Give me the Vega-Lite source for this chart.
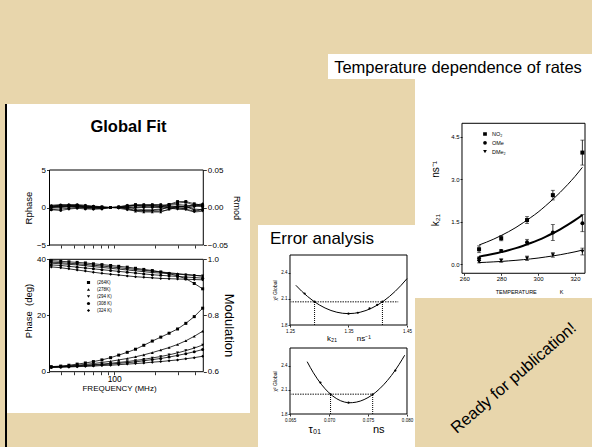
{
"$schema": "https://vega.github.io/schema/vega-lite/v6.json",
"background": "#e8d6ac",
"padding": {"left": 5, "top": 54, "right": 0, "bottom": 0},
"config": {
  "font": "Liberation Sans",
  "view": {"stroke": null},
  "axis": {"grid": false, "domain": false, "labelColor": "black", "titleColor": "black", "tickColor": "black", "titleFontWeight": "normal", "tickWidth": 0.8, "labelFont": "Liberation Sans", "titleFont": "Liberation Sans"},
  "legend": {"labelFont": "Liberation Sans", "labelColor": "black"},
  "title": {"color": "black", "font": "Liberation Sans"}
},
"datasets": {
  "gf": [
    {"T":"(264K)","f":34,"ph":1.8,"m":0.995,"rp":0.2,"rm":0.001},
    {"T":"(264K)","f":40,"ph":2.0,"m":0.993,"rp":0.3,"rm":0.002},
    {"T":"(264K)","f":46,"ph":2.3,"m":0.991,"rp":0.3,"rm":0.002},
    {"T":"(264K)","f":53,"ph":2.7,"m":0.989,"rp":0.3,"rm":0.003},
    {"T":"(264K)","f":61,"ph":3.1,"m":0.987,"rp":0.2,"rm":0.002},
    {"T":"(264K)","f":70,"ph":3.6,"m":0.984,"rp":0.1,"rm":0.001},
    {"T":"(264K)","f":81,"ph":4.2,"m":0.981,"rp":0.1,"rm":0},
    {"T":"(264K)","f":94,"ph":5.0,"m":0.978,"rp":0,"rm":0},
    {"T":"(264K)","f":108,"ph":5.9,"m":0.975,"rp":0,"rm":0.001},
    {"T":"(264K)","f":125,"ph":6.9,"m":0.972,"rp":0.2,"rm":0.002},
    {"T":"(264K)","f":144,"ph":8.0,"m":0.968,"rp":0.4,"rm":0.003},
    {"T":"(264K)","f":166,"ph":9.4,"m":0.964,"rp":0.3,"rm":0.002},
    {"T":"(264K)","f":192,"ph":10.9,"m":0.96,"rp":0.3,"rm":0.003},
    {"T":"(264K)","f":222,"ph":12.3,"m":0.955,"rp":0.1,"rm":0.003},
    {"T":"(264K)","f":256,"ph":13.7,"m":0.949,"rp":0.4,"rm":0.004},
    {"T":"(264K)","f":296,"ph":15.2,"m":0.941,"rp":0.6,"rm":0.008},
    {"T":"(264K)","f":341,"ph":17.2,"m":0.931,"rp":0.7,"rm":0.008},
    {"T":"(264K)","f":394,"ph":19.6,"m":0.914,"rp":0.3,"rm":0.005},
    {"T":"(264K)","f":455,"ph":22.6,"m":0.895,"rp":0.2,"rm":0.003},
    {"T":"(278K)","f":34,"ph":1.7,"m":0.99,"rp":0.1,"rm":0.003},
    {"T":"(278K)","f":40,"ph":1.9,"m":0.988,"rp":0.1,"rm":0.004},
    {"T":"(278K)","f":46,"ph":2.1,"m":0.986,"rp":0.2,"rm":0.003},
    {"T":"(278K)","f":53,"ph":2.3,"m":0.984,"rp":0.2,"rm":0.002},
    {"T":"(278K)","f":61,"ph":2.6,"m":0.982,"rp":0.1,"rm":0.001},
    {"T":"(278K)","f":70,"ph":2.9,"m":0.979,"rp":0.1,"rm":0.001},
    {"T":"(278K)","f":81,"ph":3.3,"m":0.976,"rp":0,"rm":0},
    {"T":"(278K)","f":94,"ph":3.7,"m":0.973,"rp":0,"rm":0},
    {"T":"(278K)","f":108,"ph":4.2,"m":0.97,"rp":0,"rm":0},
    {"T":"(278K)","f":125,"ph":4.7,"m":0.967,"rp":0.1,"rm":-0.002},
    {"T":"(278K)","f":144,"ph":5.3,"m":0.964,"rp":-0.2,"rm":-0.005},
    {"T":"(278K)","f":166,"ph":6.0,"m":0.961,"rp":-0.3,"rm":-0.006},
    {"T":"(278K)","f":192,"ph":6.8,"m":0.958,"rp":-0.3,"rm":-0.006},
    {"T":"(278K)","f":222,"ph":7.7,"m":0.955,"rp":-0.2,"rm":-0.006},
    {"T":"(278K)","f":256,"ph":8.6,"m":0.952,"rp":0,"rm":-0.002},
    {"T":"(278K)","f":296,"ph":9.7,"m":0.949,"rp":0.2,"rm":0.002},
    {"T":"(278K)","f":341,"ph":11.0,"m":0.946,"rp":0.1,"rm":0.001},
    {"T":"(278K)","f":394,"ph":12.6,"m":0.943,"rp":0.4,"rm":-0.002},
    {"T":"(278K)","f":455,"ph":14.4,"m":0.94,"rp":0.3,"rm":-0.003},
    {"T":"(294 K)","f":34,"ph":1.6,"m":0.986,"rp":-0.1,"rm":0},
    {"T":"(294 K)","f":40,"ph":1.8,"m":0.984,"rp":0,"rm":0.001},
    {"T":"(294 K)","f":46,"ph":1.9,"m":0.982,"rp":0.1,"rm":0.001},
    {"T":"(294 K)","f":53,"ph":2.1,"m":0.98,"rp":0.1,"rm":0.001},
    {"T":"(294 K)","f":61,"ph":2.3,"m":0.977,"rp":0,"rm":0},
    {"T":"(294 K)","f":70,"ph":2.5,"m":0.974,"rp":-0.1,"rm":0},
    {"T":"(294 K)","f":81,"ph":2.7,"m":0.971,"rp":-0.1,"rm":0},
    {"T":"(294 K)","f":94,"ph":3.0,"m":0.968,"rp":0,"rm":0},
    {"T":"(294 K)","f":108,"ph":3.3,"m":0.965,"rp":0,"rm":0},
    {"T":"(294 K)","f":125,"ph":3.6,"m":0.962,"rp":-0.1,"rm":0.001},
    {"T":"(294 K)","f":144,"ph":4.0,"m":0.959,"rp":-0.4,"rm":0.003},
    {"T":"(294 K)","f":166,"ph":4.4,"m":0.956,"rp":-0.5,"rm":0.004},
    {"T":"(294 K)","f":192,"ph":4.9,"m":0.953,"rp":-0.5,"rm":0.004},
    {"T":"(294 K)","f":222,"ph":5.4,"m":0.951,"rp":-0.5,"rm":0.004},
    {"T":"(294 K)","f":256,"ph":6.0,"m":0.949,"rp":-0.3,"rm":0},
    {"T":"(294 K)","f":296,"ph":6.7,"m":0.947,"rp":0.1,"rm":-0.002},
    {"T":"(294 K)","f":341,"ph":7.5,"m":0.945,"rp":0.2,"rm":-0.003},
    {"T":"(294 K)","f":394,"ph":8.4,"m":0.943,"rp":-0.4,"rm":-0.006},
    {"T":"(294 K)","f":455,"ph":9.5,"m":0.941,"rp":-0.2,"rm":-0.005},
    {"T":"(308 K)","f":34,"ph":1.6,"m":0.98,"rp":-0.3,"rm":-0.003},
    {"T":"(308 K)","f":40,"ph":1.7,"m":0.978,"rp":-0.2,"rm":-0.004},
    {"T":"(308 K)","f":46,"ph":1.8,"m":0.975,"rp":-0.1,"rm":-0.002},
    {"T":"(308 K)","f":53,"ph":2.0,"m":0.972,"rp":0,"rm":-0.001},
    {"T":"(308 K)","f":61,"ph":2.1,"m":0.969,"rp":-0.1,"rm":-0.002},
    {"T":"(308 K)","f":70,"ph":2.3,"m":0.966,"rp":-0.2,"rm":-0.002},
    {"T":"(308 K)","f":81,"ph":2.5,"m":0.963,"rp":-0.2,"rm":-0.001},
    {"T":"(308 K)","f":94,"ph":2.7,"m":0.96,"rp":0,"rm":0},
    {"T":"(308 K)","f":108,"ph":3.0,"m":0.957,"rp":0,"rm":0},
    {"T":"(308 K)","f":125,"ph":3.2,"m":0.954,"rp":0,"rm":-0.001},
    {"T":"(308 K)","f":144,"ph":3.5,"m":0.951,"rp":0.1,"rm":0},
    {"T":"(308 K)","f":166,"ph":3.9,"m":0.948,"rp":0.1,"rm":0},
    {"T":"(308 K)","f":192,"ph":4.3,"m":0.945,"rp":0,"rm":0.001},
    {"T":"(308 K)","f":222,"ph":4.7,"m":0.943,"rp":0,"rm":0.001},
    {"T":"(308 K)","f":256,"ph":5.2,"m":0.941,"rp":0.1,"rm":0.003},
    {"T":"(308 K)","f":296,"ph":5.8,"m":0.939,"rp":0,"rm":0.004},
    {"T":"(308 K)","f":341,"ph":6.4,"m":0.937,"rp":-0.2,"rm":0.003},
    {"T":"(308 K)","f":394,"ph":7.1,"m":0.935,"rp":-0.5,"rm":0.002},
    {"T":"(308 K)","f":455,"ph":7.9,"m":0.933,"rp":-0.3,"rm":0.001},
    {"T":"(324 K)","f":34,"ph":1.5,"m":0.973,"rp":0,"rm":0.002},
    {"T":"(324 K)","f":40,"ph":1.6,"m":0.97,"rp":0.2,"rm":0.003},
    {"T":"(324 K)","f":46,"ph":1.7,"m":0.966,"rp":0.2,"rm":0.004},
    {"T":"(324 K)","f":53,"ph":1.8,"m":0.962,"rp":0.1,"rm":0.004},
    {"T":"(324 K)","f":61,"ph":1.9,"m":0.958,"rp":0,"rm":0.003},
    {"T":"(324 K)","f":70,"ph":2.0,"m":0.954,"rp":0,"rm":0.002},
    {"T":"(324 K)","f":81,"ph":2.2,"m":0.95,"rp":-0.1,"rm":0.001},
    {"T":"(324 K)","f":94,"ph":2.3,"m":0.947,"rp":0,"rm":0},
    {"T":"(324 K)","f":108,"ph":2.5,"m":0.944,"rp":0.1,"rm":-0.001},
    {"T":"(324 K)","f":125,"ph":2.7,"m":0.941,"rp":0.3,"rm":-0.003},
    {"T":"(324 K)","f":144,"ph":2.9,"m":0.938,"rp":0.3,"rm":-0.004},
    {"T":"(324 K)","f":166,"ph":3.1,"m":0.936,"rp":0.2,"rm":-0.004},
    {"T":"(324 K)","f":192,"ph":3.4,"m":0.934,"rp":0.2,"rm":-0.004},
    {"T":"(324 K)","f":222,"ph":3.6,"m":0.932,"rp":0.2,"rm":-0.003},
    {"T":"(324 K)","f":256,"ph":3.9,"m":0.931,"rp":-0.1,"rm":0.001},
    {"T":"(324 K)","f":296,"ph":4.2,"m":0.93,"rp":-0.2,"rm":0.001},
    {"T":"(324 K)","f":341,"ph":4.6,"m":0.929,"rp":-0.1,"rm":0},
    {"T":"(324 K)","f":394,"ph":5.0,"m":0.928,"rp":0.1,"rm":0.003},
    {"T":"(324 K)","f":455,"ph":5.5,"m":0.927,"rp":0.4,"rm":0.005}
  ],
  "c1": [{"x":1.26,"c":2.254},{"x":1.27,"c":2.186},{"x":1.28,"c":2.126},{"x":1.29,"c":2.074},{"x":1.3,"c":2.03},{"x":1.31,"c":1.994},{"x":1.32,"c":1.966},{"x":1.33,"c":1.946},{"x":1.34,"c":1.934},{"x":1.35,"c":1.93},{"x":1.36,"c":1.934},{"x":1.37,"c":1.946},{"x":1.38,"c":1.966},{"x":1.39,"c":1.994},{"x":1.4,"c":2.03},{"x":1.41,"c":2.074},{"x":1.42,"c":2.126},{"x":1.43,"c":2.186},{"x":1.44,"c":2.254},{"x":1.45,"c":2.33}],
  "p1": [{"x":1.275,"c":2.16},{"x":1.292,"c":2.066},{"x":1.35,"c":1.93},{"x":1.366,"c":1.94},{"x":1.386,"c":1.99},{"x":1.399,"c":2.03},{"x":1.408,"c":2.066}],
  "h1": [{"x":1.25,"x2":1.435,"y":2.066}],
  "v1": [{"x":1.292,"y":1.8,"y2":2.066},{"x":1.408,"y":1.8,"y2":2.066}],
  "c2": [{"x":0.0672,"c":2.45},{"x":0.068,"c":2.312},{"x":0.069,"c":2.171},{"x":0.07,"c":2.063},{"x":0.071,"c":1.989},{"x":0.072,"c":1.948},{"x":0.0727,"c":1.94},{"x":0.073,"c":1.941},{"x":0.074,"c":1.96},{"x":0.075,"c":2.004},{"x":0.076,"c":2.071},{"x":0.077,"c":2.163},{"x":0.078,"c":2.278},{"x":0.079,"c":2.418},{"x":0.0797,"c":2.53}],
  "p2": [{"x":0.0689,"c":2.19},{"x":0.0702,"c":2.044},{"x":0.0725,"c":1.94},{"x":0.0756,"c":2.044},{"x":0.0785,"c":2.34}],
  "h2": [{"x":0.065,"x2":0.0756,"y":2.044}],
  "v2": [{"x":0.0702,"y":1.8,"y2":2.044},{"x":0.0756,"y":1.8,"y2":2.044}],
  "kp": [
    {"s":"NO₂","T":268,"k":0.53,"lo":0.41,"hi":0.65},
    {"s":"NO₂","T":280,"k":0.92,"lo":0.83,"hi":1.01},
    {"s":"NO₂","T":294,"k":1.56,"lo":1.44,"hi":1.68},
    {"s":"NO₂","T":308,"k":2.44,"lo":2.27,"hi":2.61},
    {"s":"NO₂","T":324,"k":3.94,"lo":3.5,"hi":4.38},
    {"s":"OMe","T":268,"k":0.2,"lo":0.14,"hi":0.26},
    {"s":"OMe","T":280,"k":0.47,"lo":0.42,"hi":0.52},
    {"s":"OMe","T":294,"k":0.78,"lo":0.68,"hi":0.88},
    {"s":"OMe","T":308,"k":1.12,"lo":0.84,"hi":1.4},
    {"s":"OMe","T":324,"k":1.45,"lo":1.15,"hi":1.75},
    {"s":"DMe₂","T":268,"k":0.09,"lo":0.05,"hi":0.13},
    {"s":"DMe₂","T":280,"k":0.13,"lo":0.07,"hi":0.19},
    {"s":"DMe₂","T":294,"k":0.21,"lo":0.13,"hi":0.29},
    {"s":"DMe₂","T":308,"k":0.33,"lo":0.25,"hi":0.41},
    {"s":"DMe₂","T":324,"k":0.45,"lo":0.33,"hi":0.57}
  ],
  "kf": [
    {"series":"NO₂","T":268,"fit":0.68},{"series":"NO₂","T":272,"fit":0.78},{"series":"NO₂","T":276,"fit":0.89},{"series":"NO₂","T":280,"fit":1.015},{"series":"NO₂","T":284,"fit":1.15},{"series":"NO₂","T":288,"fit":1.3},{"series":"NO₂","T":292,"fit":1.47},{"series":"NO₂","T":296,"fit":1.65},{"series":"NO₂","T":300,"fit":1.84},{"series":"NO₂","T":304,"fit":2.06},{"series":"NO₂","T":308,"fit":2.29},{"series":"NO₂","T":312,"fit":2.54},{"series":"NO₂","T":316,"fit":2.81},{"series":"NO₂","T":320,"fit":3.1},{"series":"NO₂","T":324,"fit":3.42},
    {"series":"OMe","T":268,"fit":0.27},{"series":"OMe","T":272,"fit":0.316},{"series":"OMe","T":276,"fit":0.369},{"series":"OMe","T":280,"fit":0.429},{"series":"OMe","T":284,"fit":0.496},{"series":"OMe","T":288,"fit":0.571},{"series":"OMe","T":292,"fit":0.655},{"series":"OMe","T":296,"fit":0.749},{"series":"OMe","T":300,"fit":0.853},{"series":"OMe","T":304,"fit":0.968},{"series":"OMe","T":308,"fit":1.095},{"series":"OMe","T":312,"fit":1.235},{"series":"OMe","T":316,"fit":1.388},{"series":"OMe","T":320,"fit":1.556},{"series":"OMe","T":324,"fit":1.74},
    {"series":"DMe₂","T":268,"fit":0.06},{"series":"DMe₂","T":272,"fit":0.072},{"series":"DMe₂","T":276,"fit":0.086},{"series":"DMe₂","T":280,"fit":0.1},{"series":"DMe₂","T":284,"fit":0.12},{"series":"DMe₂","T":288,"fit":0.14},{"series":"DMe₂","T":292,"fit":0.164},{"series":"DMe₂","T":296,"fit":0.19},{"series":"DMe₂","T":300,"fit":0.22},{"series":"DMe₂","T":304,"fit":0.257},{"series":"DMe₂","T":308,"fit":0.295},{"series":"DMe₂","T":312,"fit":0.338},{"series":"DMe₂","T":316,"fit":0.387},{"series":"DMe₂","T":320,"fit":0.44},{"series":"DMe₂","T":324,"fit":0.5}
  ]
},
"spacing": 0,
"resolve": {"scale": {"shape": "independent"}, "legend": {"shape": "independent"}},
"hconcat": [
  {"spacing": 0, "vconcat": [
    {"width": 2, "height": 50, "data": {"values": []}, "mark": "point"},
    {"width": 2, "height": 343, "view": {"fill": "black", "stroke": null}, "data": {"values": []}, "mark": "point"}
  ]},
  {"spacing": 0,
   "resolve": {"scale": {"shape": "independent"}, "legend": {"shape": "independent"}},
   "vconcat": [
    {"width": 243, "height": 50, "data": {"values": []}, "mark": "point"},
    {
      "width": 243, "height": 148,
      "view": {"fill": "white", "stroke": null},
      "title": {"text": "Global Fit", "fontSize": 16.5, "fontWeight": "bold", "anchor": "middle", "offset": -31},
      "layer": [
        {"layer": [
          {"data": {"values": [{}]},
           "mark": {"type": "rect", "fill": null, "stroke": "black", "strokeWidth": 1},
           "encoding": {
             "x": {"datum": 33, "type": "quantitative", "scale": {"type": "log", "domain": [15.93, 1024], "nice": false, "zero": false},
                   "axis": {"orient": "bottom", "offset": -7, "values": [40,50,60,70,80,90,100,200,300,400], "labels": false, "tickSize": 3, "title": null}},
             "x2": {"datum": 460},
             "y": {"datum": -5, "type": "quantitative", "scale": {"domain": [-5.9333, 13.8], "nice": false, "zero": false},
                   "axis": {"orient": "left", "offset": -42.5, "values": [-5, 0, 5], "title": "Rphase", "titleY": 103.5, "labelFontSize": 8, "titleFontSize": 9.5, "tickSize": 3, "labelPadding": 1, "titlePadding": 3}},
             "y2": {"datum": 5}
           }},
          {"data": {"name": "gf"}, "mark": {"type": "line", "color": "black", "strokeWidth": 0.7},
           "encoding": {"x": {"field": "f", "type": "quantitative"}, "y": {"field": "rp", "type": "quantitative"}, "detail": {"field": "T"}}},
          {"data": {"name": "gf"}, "mark": {"type": "point", "filled": true, "color": "black", "size": 8, "opacity": 1},
           "encoding": {"x": {"field": "f", "type": "quantitative"}, "y": {"field": "rp", "type": "quantitative"},
             "shape": {"field": "T", "type": "nominal", "scale": {"domain": ["(264K)","(278K)","(294 K)","(308 K)","(324 K)"], "range": ["square","triangle-up","triangle-down","circle","diamond"]}, "legend": null}}}
        ]},
        {"layer": [
          {"data": {"name": "gf"}, "mark": {"type": "line", "color": "black", "strokeWidth": 0.7},
           "encoding": {"x": {"field": "f", "type": "quantitative"},
             "y": {"field": "rm", "type": "quantitative", "scale": {"domain": [-0.059333, 0.138], "nice": false, "zero": false},
                   "axis": {"orient": "right", "offset": -46.7, "values": [-0.05, 0, 0.05], "format": ".2f", "title": "Rmod", "titleY": 103.5, "labelFontSize": 8, "titleFontSize": 9, "tickSize": 3, "labelPadding": 1, "titlePadding": 4}},
             "detail": {"field": "T"}}},
          {"data": {"name": "gf"}, "mark": {"type": "point", "filled": true, "color": "black", "size": 8, "opacity": 1},
           "encoding": {"x": {"field": "f", "type": "quantitative"}, "y": {"field": "rm", "type": "quantitative"},
             "shape": {"field": "T", "type": "nominal", "scale": {"domain": ["(264K)","(278K)","(294 K)","(308 K)","(324 K)"], "range": ["square","triangle-up","triangle-down","circle","diamond"]}, "legend": null}}}
        ]}
      ],
      "resolve": {"scale": {"y": "independent"}, "axis": {"y": "independent"}}
    },
    {
      "width": 243, "height": 161,
      "view": {"fill": "white", "stroke": null},
      "layer": [
        {"layer": [
          {"data": {"values": [{}]},
           "mark": {"type": "rect", "fill": null, "stroke": "black", "strokeWidth": 1},
           "encoding": {
             "x": {"datum": 33, "type": "quantitative", "scale": {"type": "log", "domain": [15.93, 1024], "nice": false, "zero": false},
                   "axis": {"orient": "bottom", "offset": -41.3, "values": [40,50,60,70,80,90,100,200,300,400], "labelExpr": "datum.value == 100 ? '100' : ''", "labelFontSize": 8.5, "tickSize": 3, "labelPadding": 0, "title": "FREQUENCY (MHz)", "titleX": 112, "titleFontSize": 8, "titlePadding": 1}},
             "x2": {"datum": 460},
             "y": {"datum": 0, "type": "quantitative", "scale": {"domain": [-14.698, 42.598], "nice": false, "zero": false},
                   "axis": {"orient": "left", "offset": -42.5, "values": [0, 20, 40], "title": "Phase\u00a0\u00a0(deg)", "titleY": 58.5, "labelFontSize": 8, "titleFontSize": 9.5, "tickSize": 3, "labelPadding": 1, "titlePadding": 3}},
             "y2": {"datum": 40}
           }},
          {"data": {"name": "gf"}, "mark": {"type": "line", "color": "black", "strokeWidth": 0.8},
           "encoding": {"x": {"field": "f", "type": "quantitative"}, "y": {"field": "ph", "type": "quantitative"}, "detail": {"field": "T"}}},
          {"data": {"name": "gf"}, "mark": {"type": "point", "filled": true, "color": "black", "size": 9, "opacity": 1},
           "encoding": {"x": {"field": "f", "type": "quantitative"}, "y": {"field": "ph", "type": "quantitative"},
             "shape": {"field": "T", "type": "nominal", "scale": {"domain": ["(264K)","(278K)","(294 K)","(308 K)","(324 K)"], "range": ["square","triangle-up","triangle-down","circle","diamond"]},
               "legend": {"orient": "none", "legendX": 79, "legendY": 28, "title": null, "labelFontSize": 4.5, "symbolSize": 10, "symbolFillColor": "black", "symbolStrokeColor": "black", "clipHeight": 5, "rowPadding": 1, "labelOffset": 6, "padding": 0}}}}
        ]},
        {"layer": [
          {"data": {"name": "gf"}, "mark": {"type": "line", "color": "black", "strokeWidth": 0.8},
           "encoding": {"x": {"field": "f", "type": "quantitative"},
             "y": {"field": "m", "type": "quantitative", "scale": {"domain": [0.45302, 1.02598], "nice": false, "zero": false},
                   "axis": {"orient": "right", "offset": -46.7, "values": [0.6, 0.8, 1.0], "format": ".1f", "title": "Modulation", "titleY": 73, "labelFontSize": 8, "titleFontSize": 13, "tickSize": 3, "labelPadding": 1, "titlePadding": 3}},
             "detail": {"field": "T"}}},
          {"data": {"name": "gf"}, "mark": {"type": "point", "filled": true, "color": "black", "size": 9, "opacity": 1},
           "encoding": {"x": {"field": "f", "type": "quantitative"}, "y": {"field": "m", "type": "quantitative"},
             "shape": {"field": "T", "type": "nominal", "scale": {"domain": ["(264K)","(278K)","(294 K)","(308 K)","(324 K)"], "range": ["square","triangle-up","triangle-down","circle","diamond"]},
               "legend": {"orient": "none", "legendX": 79, "legendY": 28, "title": null, "labelFontSize": 4.5, "symbolSize": 10, "symbolFillColor": "black", "symbolStrokeColor": "black", "clipHeight": 5, "rowPadding": 1, "labelOffset": 6, "padding": 0}}}}
        ]}
      ],
      "resolve": {"scale": {"y": "independent"}, "axis": {"y": "independent"}}
    }
  ]},
  {"width": 8, "height": 10, "data": {"values": []}, "mark": "point"},
  {"spacing": 0,
   "resolve": {"scale": {"shape": "independent"}, "legend": {"shape": "independent"}},
   "vconcat": [
    {"spacing": 0, "hconcat": [
      {"width": 70, "height": 25, "data": {"values": []}, "mark": "point"},
      {"width": 264, "height": 25, "view": {"fill": "white", "stroke": null},
       "data": {"values": [{"t": "Temperature dependence of rates"}]},
       "mark": {"type": "text", "fontSize": 16.5, "color": "black", "dx": -2, "dy": 1},
       "encoding": {"text": {"field": "t"}}}
    ]},
    {"spacing": 0,
     "resolve": {"scale": {"shape": "independent"}, "legend": {"shape": "independent"}},
     "hconcat": [
      {"spacing": 0, "vconcat": [
        {"width": 157, "height": 146, "data": {"values": []}, "mark": "point"},
        {
          "width": 157, "height": 119,
          "view": {"fill": "white", "stroke": null},
          "title": {"text": "Error analysis", "anchor": "start", "dx": 12, "offset": -23, "fontSize": 17, "fontWeight": "normal"},
          "layer": [
            {"data": {"values": [{}]}, "mark": {"type": "rect", "fill": null, "stroke": "black", "strokeWidth": 1},
             "encoding": {
               "x": {"datum": 1.25, "type": "quantitative", "scale": {"domain": [1.1953, 1.46368], "nice": false, "zero": false},
                     "axis": {"orient": "bottom", "offset": -19, "values": [1.25, 1.3, 1.35, 1.4, 1.45], "format": ".2f", "title": "k₂₁\u00a0\u00a0\u00a0\u00a0\u00a0\u00a0\u00a0\u00a0\u00a0ns⁻¹", "titleX": 90.5, "labelFontSize": 4.5, "titleFontSize": 8, "tickSize": 2, "labelPadding": 1, "titlePadding": 1.5}},
               "x2": {"datum": 1.45},
               "y": {"datum": 1.8, "type": "quantitative", "scale": {"domain": [1.58286, 2.94286], "nice": false, "zero": false},
                     "axis": {"orient": "left", "offset": -32, "values": [1.8, 2.1, 2.4], "format": ".1f", "title": "χ² Global", "titleY": 65, "labelFontSize": 4.5, "titleFontSize": 5, "tickSize": 2, "labelPadding": 1, "titlePadding": 3}},
               "y2": {"datum": 2.6}
             }},
            {"data": {"name": "h1"}, "mark": {"type": "rule", "color": "#666666", "strokeWidth": 1.5, "strokeDash": [1.5, 1]},
             "encoding": {"x": {"field": "x", "type": "quantitative"}, "x2": {"field": "x2"}, "y": {"field": "y", "type": "quantitative"}}},
            {"data": {"name": "v1"}, "mark": {"type": "rule", "color": "black", "strokeWidth": 1, "strokeDash": [1, 1]},
             "encoding": {"x": {"field": "x", "type": "quantitative"}, "y": {"field": "y", "type": "quantitative"}, "y2": {"field": "y2"}}},
            {"data": {"name": "c1"}, "mark": {"type": "line", "color": "black", "strokeWidth": 1, "interpolate": "monotone"},
             "encoding": {"x": {"field": "x", "type": "quantitative"}, "y": {"field": "c", "type": "quantitative"}}},
            {"data": {"name": "p1"}, "mark": {"type": "point", "filled": true, "color": "black", "size": 5, "opacity": 1},
             "encoding": {"x": {"field": "x", "type": "quantitative"}, "y": {"field": "c", "type": "quantitative"}}}
          ]
        },
        {
          "width": 157, "height": 103,
          "view": {"fill": "white", "stroke": null},
          "layer": [
            {"data": {"values": [{}]}, "mark": {"type": "rect", "fill": null, "stroke": "black", "strokeWidth": 1},
             "encoding": {
               "x": {"datum": 0.065, "type": "quantitative", "scale": {"domain": [0.060897, 0.081026], "nice": false, "zero": false},
                     "axis": {"orient": "bottom", "offset": -33, "values": [0.065, 0.07, 0.075, 0.08], "format": ".3f", "title": "τ₀₁\u00a0\u00a0\u00a0\u00a0\u00a0\u00a0\u00a0\u00a0\u00a0\u00a0\u00a0\u00a0\u00a0\u00a0\u00a0\u00a0\u00a0ns", "titleX": 88, "labelFontSize": 4.5, "titleFontSize": 11, "tickSize": 2, "labelPadding": 1, "titlePadding": 2}},
               "x2": {"datum": 0.08},
               "y": {"datum": 1.8, "type": "quantitative", "scale": {"domain": [1.39, 2.6697], "nice": false, "zero": false},
                     "axis": {"orient": "left", "offset": -32, "values": [1.8, 2.1, 2.4], "format": ".1f", "title": "χ² Global", "titleY": 37, "labelFontSize": 4.5, "titleFontSize": 5, "tickSize": 2, "labelPadding": 1, "titlePadding": 3}},
               "y2": {"datum": 2.62}
             }},
            {"data": {"name": "h2"}, "mark": {"type": "rule", "color": "#666666", "strokeWidth": 1.5, "strokeDash": [1.5, 1]},
             "encoding": {"x": {"field": "x", "type": "quantitative"}, "x2": {"field": "x2"}, "y": {"field": "y", "type": "quantitative"}}},
            {"data": {"name": "v2"}, "mark": {"type": "rule", "color": "black", "strokeWidth": 1, "strokeDash": [1, 1]},
             "encoding": {"x": {"field": "x", "type": "quantitative"}, "y": {"field": "y", "type": "quantitative"}, "y2": {"field": "y2"}}},
            {"data": {"name": "c2"}, "mark": {"type": "line", "color": "black", "strokeWidth": 1, "interpolate": "monotone"},
             "encoding": {"x": {"field": "x", "type": "quantitative"}, "y": {"field": "c", "type": "quantitative"}}},
            {"data": {"name": "p2"}, "mark": {"type": "point", "filled": true, "color": "black", "size": 5, "opacity": 1},
             "encoding": {"x": {"field": "x", "type": "quantitative"}, "y": {"field": "c", "type": "quantitative"}}}
          ]
        }
      ]},
      {"spacing": 0,
       "resolve": {"scale": {"shape": "independent"}, "legend": {"shape": "independent"}},
       "vconcat": [
        {
          "width": 177, "height": 219,
          "view": {"fill": "white", "stroke": null},
          "layer": [
            {"data": {"values": [{}]}, "mark": {"type": "rect", "fill": null, "stroke": "black", "strokeWidth": 1},
             "encoding": {
               "x": {"datum": 258.75, "type": "quantitative", "scale": {"domain": [233.28, 329.21], "nice": false, "zero": false},
                     "axis": {"orient": "bottom", "offset": -24.7, "values": [260, 280, 300, 320], "format": "d", "labelFontSize": 6, "tickSize": 2, "labelPadding": 0, "title": "TEMPERATURE\u00a0\u00a0\u00a0\u00a0\u00a0\u00a0\u00a0\u00a0\u00a0\u00a0\u00a0\u00a0\u00a0\u00a0\u00a0K", "titleX": 114, "titleFontSize": 5.5, "titlePadding": 8}},
               "x2": {"datum": 325.42},
               "y": {"datum": -0.317, "type": "quantitative", "scale": {"domain": [-1.189, 6.536], "nice": false, "zero": false},
                     "axis": {"orient": "left", "offset": -47, "values": [0, 1.5, 3, 4.5], "format": ".1f", "labelFontSize": 6, "tickSize": 2, "labelPadding": 1, "title": "k₂₁\u00a0\u00a0\u00a0\u00a0\u00a0\u00a0\u00a0\u00a0\u00a0\u00a0\u00a0\u00a0\u00a0ns⁻¹", "titleY": 114, "titleFontSize": 10, "titlePadding": 10}},
               "y2": {"datum": 4.974}
             }},
            {"data": {"name": "kf"}, "transform": [{"filter": "datum.series != 'OMe'"}],
             "mark": {"type": "line", "color": "black", "strokeWidth": 1, "interpolate": "monotone"},
             "encoding": {"x": {"field": "T", "type": "quantitative"}, "y": {"field": "fit", "type": "quantitative"}, "detail": {"field": "series"}}},
            {"data": {"name": "kf"}, "transform": [{"filter": "datum.series == 'OMe'"}],
             "mark": {"type": "line", "color": "black", "strokeWidth": 2, "interpolate": "monotone"},
             "encoding": {"x": {"field": "T", "type": "quantitative"}, "y": {"field": "fit", "type": "quantitative"}}},
            {"data": {"name": "kp"}, "mark": {"type": "rule", "color": "black", "strokeWidth": 0.8},
             "encoding": {"x": {"field": "T", "type": "quantitative"}, "y": {"field": "lo", "type": "quantitative"}, "y2": {"field": "hi"}}},
            {"data": {"name": "kp"}, "mark": {"type": "tick", "orient": "horizontal", "color": "black", "size": 4, "thickness": 0.8},
             "encoding": {"x": {"field": "T", "type": "quantitative"}, "y": {"field": "lo", "type": "quantitative"}}},
            {"data": {"name": "kp"}, "mark": {"type": "tick", "orient": "horizontal", "color": "black", "size": 4, "thickness": 0.8},
             "encoding": {"x": {"field": "T", "type": "quantitative"}, "y": {"field": "hi", "type": "quantitative"}}},
            {"data": {"name": "kp"}, "mark": {"type": "point", "filled": true, "color": "black", "size": 16, "opacity": 1},
             "encoding": {"x": {"field": "T", "type": "quantitative"}, "y": {"field": "k", "type": "quantitative"},
               "shape": {"field": "s", "type": "nominal", "scale": {"domain": ["NO₂","OMe","DMe₂"], "range": ["square","circle","triangle-down"]},
                 "legend": {"orient": "none", "legendX": 67, "legendY": 52, "title": null, "labelFontSize": 5.5, "symbolSize": 14, "symbolFillColor": "black", "symbolStrokeColor": "black", "clipHeight": 6, "rowPadding": 1.8, "labelOffset": 4, "padding": 0}}}}
          ]
        },
        {"width": 177, "height": 149,
         "data": {"values": [{"t": "Ready for publication!"}]},
         "mark": {"type": "text", "fontSize": 16.5, "angle": 319, "color": "black", "dx": 4, "dy": 11},
         "encoding": {"text": {"field": "t"}}}
      ]}
    ]}
  ]}
]
}
